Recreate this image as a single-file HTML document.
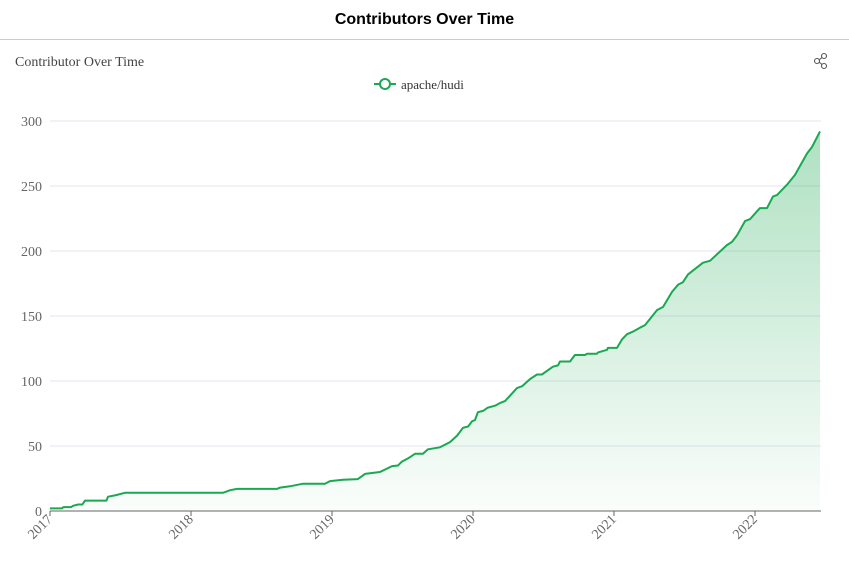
<!DOCTYPE html>
<html><head><meta charset="utf-8">
<style>
body{margin:0;width:849px;height:562px;background:#fff;overflow:hidden;font-family:"Liberation Serif",serif;}
#hdr{position:absolute;left:0;top:0;width:849px;height:40px;border-bottom:1px solid #ccc;box-sizing:border-box;text-align:center;font:bold 16px "Liberation Sans",sans-serif;line-height:40px;color:#000;}
svg{position:absolute;left:0;top:0;}
</style></head><body>
<div id="hdr">Contributors Over Time</div>
<svg id="chart" width="849" height="562">
<defs><linearGradient id="g" x1="0" y1="0" x2="0" y2="1">
<stop offset="0" stop-color="#1aa850" stop-opacity="0.35"/><stop offset="1" stop-color="#1aa850" stop-opacity="0.02"/></linearGradient></defs>
<text x="15" y="66" font-size="14" fill="#444">Contributor Over Time</text>
<g stroke="#555" fill="none" stroke-width="1.1">
<circle cx="824" cy="56" r="2.5"/><circle cx="817" cy="61" r="2.5"/><circle cx="824" cy="66" r="2.5"/>
<line x1="819" y1="60" x2="822" y2="57.5"/><line x1="819" y1="62" x2="822" y2="64.5"/></g>
<g>
<line x1="374" y1="84" x2="396" y2="84" stroke="#1aa850" stroke-width="2"/>
<circle cx="385" cy="84" r="5" fill="#fff" stroke="#1aa850" stroke-width="2"/>
<text x="401" y="89" font-size="13" fill="#333">apache/hudi</text></g>
<g id="grid"></g><g id="series"></g><g id="axes"></g>
</svg>
<script>
const yTicks=[0,50,100,150,200,250,300];
const xTicks=[2017,2018,2019,2020,2021,2022];
const dates=[2017.000,2017.085,2017.095,2017.150,2017.163,2017.200,2017.230,2017.248,2017.400,2017.411,2017.461,2017.532,2018.227,2018.277,2018.326,2018.610,2018.631,2018.702,2018.794,2018.950,2018.986,2019.078,2019.184,2019.234,2019.340,2019.426,2019.468,2019.496,2019.539,2019.589,2019.645,2019.681,2019.766,2019.837,2019.887,2019.929,2019.965,2019.993,2020.014,2020.035,2020.071,2020.106,2020.156,2020.191,2020.227,2020.312,2020.348,2020.404,2020.454,2020.489,2020.567,2020.603,2020.617,2020.688,2020.723,2020.794,2020.809,2020.879,2020.887,2020.950,2020.957,2021.021,2021.057,2021.092,2021.135,2021.184,2021.220,2021.305,2021.348,2021.411,2021.454,2021.489,2021.525,2021.631,2021.681,2021.801,2021.837,2021.872,2021.929,2021.965,2022.035,2022.085,2022.128,2022.156,2022.227,2022.284,2022.369,2022.404,2022.461];
const values=[2,2,3,3,4,5,5,8,8,11,12,14,14,16,17,17,18,19,21,21,23,24,24.5,28.5,30,34.5,35,38,40.5,44,44,47.5,49,53,58,64,65,69,70,76,77,79.5,81,83,84.5,94.5,96,101.5,105,105,111,112,115,115,120,120,121,121,122,124,125.5,125.5,132,136,138,141,143,154.5,157,168.5,174,176,182,191,192.5,204.5,207,212,223,224.5,233,233,242,243,251,258.5,275,280,292];
const X0=50,X1=821,Y0=511,Y1=121;
const xs=t=>X0+(t-2017)*141;
const ys=v=>Y0-(v-0)*(Y0-Y1)/300;
const NS="http://www.w3.org/2000/svg";
const grid=document.getElementById('grid'),axes=document.getElementById('axes'),ser=document.getElementById('series');
yTicks.forEach(v=>{
 const l=document.createElementNS(NS,'line');
 
 
 l.setAttribute('x1',X0);l.setAttribute('x2',X1);l.setAttribute('y1',ys(v));l.setAttribute('y2',ys(v));
 l.setAttribute('stroke',v===0?'#666':'#e0e6f1');grid.appendChild(l);
 const t=document.createElementNS(NS,'text');
 
 
 t.setAttribute('x',42);t.setAttribute('y',ys(v)+5);t.setAttribute('text-anchor','end');
 t.setAttribute('font-size','14');t.setAttribute('fill','#666');t.textContent=v;axes.appendChild(t);
});
xTicks.forEach(v=>{
 const x=xs(v);
 const l=document.createElementNS(NS,'line');
 
 
 l.setAttribute('x1',x);l.setAttribute('x2',x);l.setAttribute('y1',Y0);l.setAttribute('y2',Y0+5);l.setAttribute('stroke','#666');axes.appendChild(l);
 const t=document.createElementNS(NS,'text');
 
 
 t.setAttribute('transform',`translate(${x+3},${Y0+9}) rotate(-45)`);t.setAttribute('text-anchor','end');
 t.setAttribute('font-size','14');t.setAttribute('fill','#666');t.textContent=v;axes.appendChild(t);
});
const pts=dates.map((d,i)=>[xs(d).toFixed(1),ys(values[i]).toFixed(1)]);
const area=document.createElementNS(NS,'path');


area.setAttribute('d','M'+pts.map(p=>p.join(',')).join('L')+`L${pts[pts.length-1][0]},${Y0}L${pts[0][0]},${Y0}Z`);
area.setAttribute('fill','url(#g)');ser.appendChild(area);
const line=document.createElementNS(NS,'polyline');


line.setAttribute('points',pts.map(p=>p.join(',')).join(' '));
line.setAttribute('fill','none');line.setAttribute('stroke','#1aa850');line.setAttribute('stroke-width','2');line.setAttribute('stroke-linejoin','round');
ser.appendChild(line);
</script>
</body></html>
